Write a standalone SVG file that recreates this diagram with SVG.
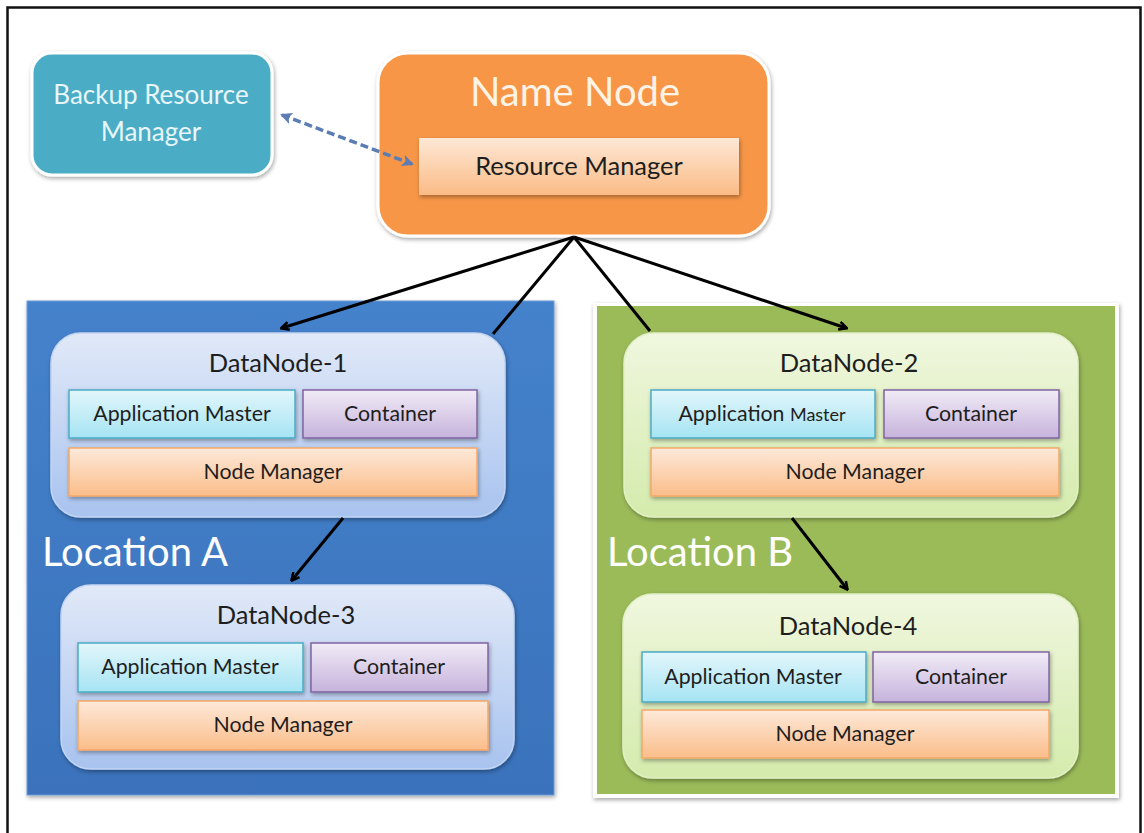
<svg xmlns="http://www.w3.org/2000/svg" width="1144" height="833" viewBox="0 0 1144 833">
<defs>
<style>
.t{font-family:Lato,"Liberation Sans",sans-serif;fill:#1e1e1e;text-anchor:middle}
.sm{font-size:21.3px}
.dn{font-size:25.5px}
.loc{font-family:Lato,"Liberation Sans",sans-serif;font-size:40px;fill:#ffffff}
.conn{stroke:#000;stroke-width:3;fill:none}
.am{fill:url(#amG);stroke:#4bacc6;stroke-width:1.5}
.ct{fill:url(#ctG);stroke:#8064a2;stroke-width:1.5}
.nm{fill:url(#nmG);stroke:#f5a86a;stroke-width:1.5}
</style>
<linearGradient id="amG" x1="0" y1="0" x2="0" y2="1"><stop offset="0" stop-color="#e2f6fb"/><stop offset="1" stop-color="#a6e4f3"/></linearGradient>
<linearGradient id="ctG" x1="0" y1="0" x2="0" y2="1"><stop offset="0" stop-color="#f1ebf6"/><stop offset="1" stop-color="#c6b3dc"/></linearGradient>
<linearGradient id="nmG" x1="0" y1="0" x2="0" y2="1"><stop offset="0" stop-color="#fde9d9"/><stop offset="1" stop-color="#fbbd8a"/></linearGradient>
<linearGradient id="rmG" x1="0" y1="0" x2="0" y2="1"><stop offset="0" stop-color="#fde8d6"/><stop offset="1" stop-color="#fbbb86"/></linearGradient>
<linearGradient id="dbG" x1="0" y1="0" x2="0" y2="1"><stop offset="0" stop-color="#e1e9f8"/><stop offset="1" stop-color="#a8c3ef"/></linearGradient>
<linearGradient id="dgG" x1="0" y1="0" x2="0" y2="1"><stop offset="0" stop-color="#f0f7df"/><stop offset="1" stop-color="#d4ebac"/></linearGradient>
<linearGradient id="locA" x1="0" y1="0" x2="0" y2="1"><stop offset="0" stop-color="#4582cc"/><stop offset="1" stop-color="#3a72bb"/></linearGradient>
<filter id="sh" x="-10%" y="-10%" width="120%" height="130%"><feDropShadow dx="1" dy="2" stdDeviation="2" flood-color="#000" flood-opacity="0.35"/></filter>
<marker id="ar" markerWidth="10" markerHeight="10" refX="8" refY="5" orient="auto" markerUnits="userSpaceOnUse"><path d="M1,1 L9,5 L1,9" fill="none" stroke="#000" stroke-width="2.5"/></marker>
<marker id="arB" markerWidth="12" markerHeight="12" refX="10" refY="6" orient="auto-start-reverse" markerUnits="userSpaceOnUse"><path d="M0,0 L12,6 L0,12 L3,6 Z" fill="#5b7db3"/></marker>
</defs>
<rect x="0" y="0" width="1144" height="833" fill="#ffffff"/>
<rect x="7.5" y="7.5" width="1133" height="850" fill="none" stroke="#111" stroke-width="2.5"/>

<g id="locationA">
<rect x="27" y="301" width="527" height="494" fill="url(#locA)" stroke="#6d9bd6" stroke-width="1" filter="url(#sh)"/>
<text class="loc" x="42" y="566">Location A</text>
</g>
<g id="locationB">
<rect x="593" y="303" width="526" height="495" fill="#ffffff" filter="url(#sh)"/>
<rect x="597" y="306" width="518" height="488" fill="#9bbb59"/>
<text class="loc" x="607" y="566">Location B</text>
</g>

<g id="backupRM">
<rect x="32" y="53" width="240" height="122" rx="20" fill="#4bacc6" stroke="#ffffff" stroke-width="3" filter="url(#sh)"/>
<text x="151" y="104" font-family="Lato,'Liberation Sans',sans-serif" font-size="26" fill="#e8f6f9" text-anchor="middle">Backup Resource</text>
<text x="151" y="141" font-family="Lato,'Liberation Sans',sans-serif" font-size="26" fill="#e8f6f9" text-anchor="middle">Manager</text>
</g>

<g id="nameNode">
<rect x="378" y="53" width="391" height="183" rx="30" fill="#f79646" stroke="#ffffff" stroke-width="3" filter="url(#sh)"/>
<text x="575" y="106" font-family="Lato,'Liberation Sans',sans-serif" font-size="40" fill="#fff3e6" text-anchor="middle">Name Node</text>
<g id="resourceManager">
<rect x="419" y="138" width="320" height="57" fill="url(#rmG)" filter="url(#sh)"/>
<text class="t" x="579" y="175" font-size="25.5">Resource Manager</text>
</g>
</g>

<g id="dataNode1">
<rect x="51" y="333" width="454" height="184" rx="30" fill="url(#dbG)" stroke="#c3d5f3" stroke-width="1.5" filter="url(#sh)"/>
<text class="t dn" x="278" y="372">DataNode-1</text>
<rect class="am" x="69" y="390" width="226" height="48" filter="url(#sh)"/>
<text class="t sm" x="182" y="421">Application Master</text>
<rect class="ct" x="303" y="390" width="174" height="48" filter="url(#sh)"/>
<text class="t sm" x="390" y="421">Container</text>
<rect class="nm" x="69" y="448" width="408" height="48" filter="url(#sh)"/>
<text class="t sm" x="273" y="479">Node Manager</text>
</g>

<g id="dataNode2">
<rect x="624" y="333" width="454" height="184" rx="30" fill="url(#dgG)" stroke="#e1f0c6" stroke-width="1.5" filter="url(#sh)"/>
<text class="t dn" x="849" y="372">DataNode-2</text>
<rect class="am" x="651" y="390" width="224" height="48" filter="url(#sh)"/>
<text class="t sm" x="762" y="421">Application <tspan font-size="18">Master</tspan></text>
<rect class="ct" x="884" y="390" width="175" height="48" filter="url(#sh)"/>
<text class="t sm" x="971" y="421">Container</text>
<rect class="nm" x="651" y="448" width="408" height="48" filter="url(#sh)"/>
<text class="t sm" x="855" y="479">Node Manager</text>
</g>

<g id="dataNode3">
<rect x="61" y="585" width="453" height="184" rx="30" fill="url(#dbG)" stroke="#c3d5f3" stroke-width="1.5" filter="url(#sh)"/>
<text class="t dn" x="286" y="624">DataNode-3</text>
<rect class="am" x="78" y="643" width="225" height="49" filter="url(#sh)"/>
<text class="t sm" x="190" y="674">Application Master</text>
<rect class="ct" x="311" y="643" width="177" height="49" filter="url(#sh)"/>
<text class="t sm" x="399" y="674">Container</text>
<rect class="nm" x="78" y="701" width="410" height="49" filter="url(#sh)"/>
<text class="t sm" x="283" y="732">Node Manager</text>
</g>

<g id="dataNode4">
<rect x="623" y="594" width="455" height="184" rx="30" fill="url(#dgG)" stroke="#e1f0c6" stroke-width="1.5" filter="url(#sh)"/>
<text class="t dn" x="848" y="635">DataNode-4</text>
<rect class="am" x="642" y="652" width="224" height="50" filter="url(#sh)"/>
<text class="t sm" x="753" y="684">Application Master</text>
<rect class="ct" x="873" y="652" width="176" height="50" filter="url(#sh)"/>
<text class="t sm" x="961" y="684">Container</text>
<rect class="nm" x="642" y="710" width="407" height="48" filter="url(#sh)"/>
<text class="t sm" x="845" y="741">Node Manager</text>
</g>

<g id="connectors">
<line class="conn" x1="574" y1="237" x2="282" y2="328" marker-end="url(#ar)"/>
<line class="conn" x1="574" y1="237" x2="493" y2="334"/>
<line class="conn" x1="574" y1="237" x2="650" y2="331"/>
<line class="conn" x1="574" y1="237" x2="846" y2="328" marker-end="url(#ar)"/>
<line class="conn" x1="343" y1="518" x2="292" y2="580" marker-end="url(#ar)"/>
<line class="conn" x1="792" y1="518" x2="847" y2="589" marker-end="url(#ar)"/>
<line x1="282" y1="115" x2="412" y2="164" stroke="#5b7db3" stroke-width="3.5" stroke-dasharray="8 4" marker-start="url(#arB)" marker-end="url(#arB)"/>
</g>
</svg>
